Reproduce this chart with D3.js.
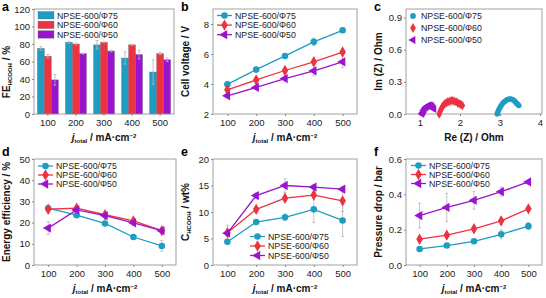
<!DOCTYPE html>
<html>
<head>
<meta charset="utf-8">
<script src="https://cdn.jsdelivr.net/npm/d3@7"></script>
<style>
  body { margin: 0; background: #fff; }
  svg { display: block; }
  text { font-family: "Liberation Sans", Arial, sans-serif; }
</style>
</head>
<body>
<div id="fig"></div>
<script>
// ---- data ----
const jVals = [100, 200, 300, 400, 500];
const seriesNames = ["NPSE-600/Φ75", "NPSE-600/Φ60", "NPSE-600/Φ50"];
const colors = ["#1f9cc3", "#ec3341", "#9a14cf"];

// a: Faradaic efficiency (%)
const feVals = [[75, 82, 79, 64, 48], [66, 80, 82, 79, 69], [39, 69, 72, 68, 62]];
const feErr = [[2, 1, 5, 7, 14], [2, 1, 0.5, 0.5, 1], [6, 0.5, 1, 5, 2]];

// b: cell voltage (V)
const voltVals = [[3.98, 4.96, 5.87, 6.81, 7.58], [3.61, 4.27, 4.9, 5.48, 6.13], [3.21, 3.77, 4.36, 4.88, 5.48]];
const voltErr = [[0.1, 0.1, 0.1, 0.25, 0.1], [0.1, 0.1, 0.1, 0.15, 0.15], [0.1, 0.1, 0.1, 0.35, 0.4]];

// c: Nyquist (Re, Im in Ohm)
const nyqRe75 = [2.93, 2.95, 2.97, 3.0, 3.03, 3.07, 3.11, 3.15, 3.19, 3.23, 3.27, 3.31, 3.35, 3.38, 3.41, 3.44, 3.47];
const nyqIm75 = [0.0, 0.02, 0.04, 0.06, 0.08, 0.1, 0.115, 0.125, 0.135, 0.14, 0.14, 0.135, 0.125, 0.115, 0.1, 0.09, 0.08];
const nyqRe60 = [1.48, 1.5, 1.52, 1.55, 1.58, 1.62, 1.66, 1.7, 1.75, 1.8, 1.85, 1.9, 1.94, 1.98, 2.02, 2.06];
const nyqIm60 = [0.0, 0.02, 0.04, 0.06, 0.08, 0.095, 0.105, 0.115, 0.12, 0.125, 0.12, 0.115, 0.105, 0.095, 0.09, 0.08];
const nyqRe50 = [1.05, 1.07, 1.09, 1.11, 1.14, 1.17, 1.2, 1.23, 1.26, 1.29, 1.31, 1.33, 1.35];
const nyqIm50 = [0.0, 0.015, 0.03, 0.045, 0.06, 0.07, 0.078, 0.082, 0.08, 0.075, 0.065, 0.055, 0.045];

// d: energy efficiency (%)
const eeVals = [[26.8, 23.5, 19.6, 13.2, 9.0], [26.3, 26.8, 23.7, 20.8, 16.2], [17.4, 26.0, 23.3, 19.9, 16.2]];
const eeErr = [[1, 1, 1, 1, 2.5], [1, 1, 1, 1, 1], [3, 1, 1, 1, 1]];

// e: HCOOH concentration (wt%)
const concVals = [[4.4, 8.1, 9.0, 10.5, 8.4], [6.1, 10.5, 12.6, 13.2, 12.1], [6.0, 13.1, 15.0, 14.7, 14.3]];
const concErr = [[0.3, 0.3, 0.6, 2.5, 3], [0.3, 0.5, 0.5, 0.5, 2], [1.5, 0.5, 1.3, 0.5, 0.5]];

// f: pressure drop (bar)
const pdVals = [[0.091, 0.11, 0.134, 0.174, 0.22], [0.146, 0.169, 0.205, 0.25, 0.318], [0.28, 0.326, 0.366, 0.415, 0.47]];
const pdErr = [[0.01, 0.01, 0.01, 0.025, 0.02], [0.01, 0.01, 0.01, 0.02, 0.015], [0.07, 0.08, 0.05, 0.025, 0.01]];

// ---- drawing ----
const svg = d3.select("#fig").append("svg").attr("width", 546).attr("height", 298);

function marker(sel, i, size) {
  const types = [d3.symbolCircle, d3.symbolDiamond, d3.symbolTriangle];
  sel.attr("d", d3.symbol().type(types[i]).size(i === 0 ? size : size * 1.1));
  return sel;
}

function placeMarker(g, i, cx, cy, size) {
  const p = g.append("path").attr("fill", colors[i]);
  marker(p, i, size);
  p.attr("transform", i === 2 ? `translate(${cx},${cy}) rotate(-90)` : `translate(${cx},${cy})`);
}

function richText(g, parts, size) {
  parts.forEach(p => {
    const t = g.append("tspan").text(p.t);
    if (p.sub) t.attr("font-size", size * 0.6).attr("baseline-shift", "-25%");
    else if (p.sup) t.attr("font-size", size * 0.6).attr("baseline-shift", "45%");
    else t.attr("font-size", size);
    if (p.it) t.attr("font-style", "italic");
  });
}

const jTitle = [{ t: "j", it: true }, { t: "total", sub: true }, { t: " / mA·cm" }, { t: "−2", sup: true }];

function panel(box, x, y, xTicks, yTicks, yFmt, letter, yTitle, xTitle, yTitleY, xFmt) {
  svg.append("rect")
    .attr("x", box.x0).attr("y", box.y0)
    .attr("width", box.x1 - box.x0).attr("height", box.y1 - box.y0)
    .attr("fill", "none").attr("stroke", "#8a8a8a").attr("stroke-width", 0.8);

  const gy = svg.append("g").attr("transform", `translate(${box.x0},0)`)
    .call(d3.axisLeft(y).tickValues(yTicks).tickFormat(yFmt).tickSizeInner(2).tickSizeOuter(0).tickPadding(2));
  const xAxis = d3.axisBottom(x).tickValues(xTicks).tickSizeInner(2).tickSizeOuter(0).tickPadding(3);
  if (xFmt) xAxis.tickFormat(xFmt);
  const gx = svg.append("g").attr("transform", `translate(0,${box.y1})`).call(xAxis);
  [gy, gx].forEach(g => {
    g.select(".domain").remove();
    g.selectAll("line").attr("stroke", "#8a8a8a");
    g.selectAll("text").attr("font-size", 9.5).attr("fill", "#222")
      .attr("font-family", "Liberation Sans, Arial, sans-serif");
  });

  svg.append("text").attr("x", box.x0 - 32).attr("y", box.y0 < 50 ? 10.5 : box.y0 - 3)
    .attr("font-size", 12.5).attr("font-weight", "bold").text(letter);

  const yt = svg.append("text")
    .attr("transform", `translate(${box.x0 - 24},${yTitleY || (box.y0 + box.y1) / 2}) rotate(-90)`)
    .attr("text-anchor", "middle").attr("font-weight", "bold").attr("fill", "#111");
  richText(yt, yTitle, 10);

  const xt = svg.append("text")
    .attr("x", (box.x0 + box.x1) / 2).attr("y", box.y1 + 27)
    .attr("text-anchor", "middle").attr("font-weight", "bold").attr("fill", "#111");
  richText(xt, xTitle, 10);
}

function errorBar(g, cx, yTop, yBot) {
  g.append("line").attr("x1", cx).attr("x2", cx).attr("y1", yTop).attr("y2", yBot)
    .attr("stroke", "#b5b5b5").attr("stroke-width", 0.8);
  [yTop, yBot].forEach(yy => g.append("line").attr("x1", cx - 1.5).attr("x2", cx + 1.5)
    .attr("y1", yy).attr("y2", yy).attr("stroke", "#b5b5b5").attr("stroke-width", 0.8));
}

function linePanel(box, yDomain, yTicks, yFmt, vals, errs, letter, yTitle, legend, yTitleY) {
  const x = d3.scaleLinear().domain([50, 550]).range([box.x0, box.x1]);
  const y = d3.scaleLinear().domain(yDomain).range([box.y1, box.y0]);
  panel(box, x, y, jVals, yTicks, yFmt, letter, yTitle, jTitle, yTitleY);
  const g = svg.append("g");
  vals.forEach((s, i) => {
    s.forEach((v, k) => errorBar(g, x(jVals[k]), y(v + errs[i][k]), y(v - errs[i][k])));
  });
  vals.forEach((s, i) => {
    g.append("path").datum(s)
      .attr("d", d3.line().x((d, k) => x(jVals[k])).y(d => y(d)))
      .attr("fill", "none").attr("stroke", colors[i]).attr("stroke-width", 1.3);
    s.forEach((v, k) => placeMarker(g, i, x(jVals[k]), y(v), 34));
  });
  drawLegend(legend.x, legend.y, legend.dy, true);
}

function drawLegend(lx, ly, dy, withLine) {
  seriesNames.forEach((name, i) => {
    const yy = ly + i * dy;
    if (withLine) {
      svg.append("line").attr("x1", lx).attr("x2", lx + 15).attr("y1", yy).attr("y2", yy)
        .attr("stroke", colors[i]).attr("stroke-width", 1.3);
      placeMarker(svg, i, lx + 7.5, yy, 34);
    }
    svg.append("text").attr("x", lx + 18).attr("y", yy + 3.3)
      .attr("font-size", 8.8).attr("fill", "#222").text(name);
  });
}

// ---- panel a: grouped bars ----
{
  const box = { x0: 34, x1: 174, y0: 9, y1: 114 };
  const x = d3.scaleBand().domain(jVals).range([box.x0, box.x1]).paddingInner(0.25).paddingOuter(0.12);
  const y = d3.scaleLinear().domain([0, 120]).range([box.y1, box.y0]);
  const xi = d3.scaleBand().domain([0, 1, 2]).range([0, x.bandwidth()]);
  const g = svg.append("g");
  feVals.forEach((s, i) => {
    g.selectAll(null).data(s).enter().append("rect")
      .attr("x", (d, k) => x(jVals[k]) + xi(i))
      .attr("y", d => y(d))
      .attr("width", xi.bandwidth())
      .attr("height", d => y(0) - y(d))
      .attr("fill", colors[i]).attr("stroke", "#666").attr("stroke-width", 0.3);
  });
  feVals.forEach((s, i) => s.forEach((v, k) => {
    const cx = x(jVals[k]) + xi(i) + xi.bandwidth() / 2;
    errorBar(g, cx, y(v + feErr[i][k]), y(v - feErr[i][k]));
  }));
  panel(box, x, y, jVals, d3.range(0, 121, 20), d3.format("d"), "a",
    [{ t: "FE" }, { t: "HCOOH", sub: true }, { t: " / %" }], jTitle, 72);
  svg.selectAll(null).data(seriesNames).enter().append("rect")
    .attr("x", 38).attr("y", (d, i) => 11.5 + i * 9.6)
    .attr("width", 16).attr("height", 7.5)
    .attr("fill", (d, i) => colors[i]).attr("stroke", "#666").attr("stroke-width", 0.3);
  drawLegend(39, 15.3, 9.6, false);
}

// ---- panel b ----
linePanel({ x0: 213, x1: 357, y0: 9, y1: 114 }, [2, 9], [2, 4, 6, 8], d3.format("d"), voltVals, voltErr,
  "b", [{ t: "Cell voltage / V" }], { x: 217, y: 15.5, dy: 9.6 });

// ---- panel c: Nyquist ----
{
  const box = { x0: 406, x1: 542, y0: 9, y1: 114 };
  const x = d3.scaleLinear().domain([0.65, 4.05]).range([box.x0, box.x1]);
  const y = d3.scaleLinear().domain([0, 0.98]).range([box.y1, box.y0]);
  panel(box, x, y, [1, 2, 3, 4], [0, 0.3, 0.6, 0.9], d3.format(".1f"), "c",
    [{ t: "Im (Z) / Ohm" }], [{ t: "Re (Z) / Ohm" }], null, d3.format("d"));
  const g = svg.append("g");
  [[nyqRe75, nyqIm75], [nyqRe60, nyqIm60], [nyqRe50, nyqIm50]].forEach(([re, im], i) => {
    re.forEach((r, k) => placeMarker(g, i, x(r), y(im[k]), 24));
  });
  seriesNames.forEach((name, i) => {
    placeMarker(svg, i, 413, 16 + i * 12, 26);
    svg.append("text").attr("x", 421).attr("y", 19.3 + i * 12)
      .attr("font-size", 8.8).attr("fill", "#222").text(name);
  });
}

// ---- panel d ----
linePanel({ x0: 34, x1: 176, y0: 159, y1: 265 }, [0, 50], [0, 10, 20, 30, 40, 50], d3.format("d"), eeVals, eeErr,
  "d", [{ t: "Energy efficiency / %" }], { x: 38, y: 166, dy: 9 });

// ---- panel e ----
linePanel({ x0: 213, x1: 357, y0: 159, y1: 265 }, [0, 20], [0, 5, 10, 15, 20], d3.format("d"), concVals, concErr,
  "e", [{ t: "C" }, { t: "HCOOH", sub: true }, { t: " / wt%" }], { x: 250, y: 236.5, dy: 9.5 });

// ---- panel f ----
linePanel({ x0: 406, x1: 542, y0: 159, y1: 265 }, [0, 0.6], [0, 0.2, 0.4, 0.6], d3.format(".1f"), pdVals, pdErr,
  "f", [{ t: "Pressure drop / bar" }], { x: 411, y: 165.5, dy: 9 });
</script>
</body>
</html>
